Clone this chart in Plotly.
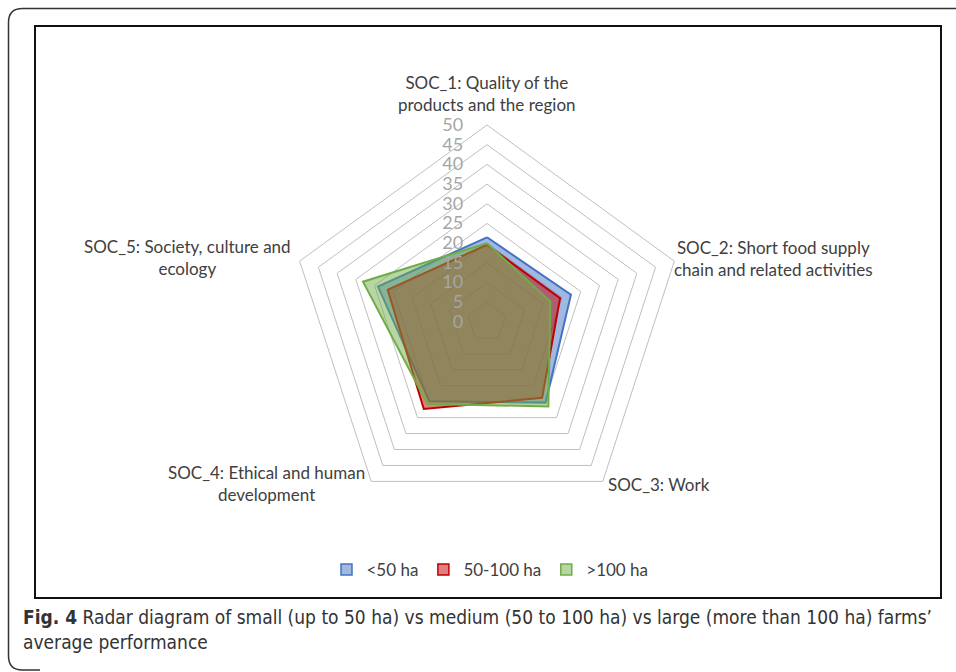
import plotly.graph_objects as go

W, H = 956, 672

categories = [
    "SOC_1: Quality of the<br>products and the region",
    "SOC_2: Short food supply<br>chain and related activities",
    "SOC_3: Work",
    "SOC_4: Ethical and human<br>development",
    "SOC_5: Society, culture and<br>ecology",
]
series_names = ["<50 ha", "50-100 ha", ">100 ha"]
small_vals = [21.5, 22.4, 25.3, 24.9, 29.1]
medium_vals = [19.6, 19.5, 23.8, 27.3, 26.5]
large_vals = [20.0, 16.9, 26.5, 25.7, 33.1]
radial_ticks = [0, 5, 10, 15, 20, 25, 30, 35, 40, 45, 50]

line_colors = ["#4472C4", "#C00000", "#70AD47"]
fill_colors = ["rgba(68,114,196,0.5)", "rgba(192,0,0,0.5)", "rgba(112,173,71,0.5)"]

caption = ("<b>Fig. 4</b> Radar diagram of small (up to 50 ha) vs medium (50 to 100 ha) "
           "vs large (more than 100 ha) farms’<br>average performance")

fig = go.Figure()
for name, vals, lc, fc in zip(series_names, [small_vals, medium_vals, large_vals], line_colors, fill_colors):
    fig.add_trace(go.Scatterpolar(
        r=vals + vals[:1], theta=categories + categories[:1],
        mode="lines", fill="toself", fillcolor=fc,
        line=dict(color=lc, width=2), name=name, legendgroup=name, showlegend=False,
    ))
for name, lc, fc in zip(series_names, line_colors, fill_colors):
    fig.add_trace(go.Scatterpolar(
        r=[None], theta=[categories[0]], mode="markers", name=name, legendgroup=name,
        marker=dict(symbol="square", size=11, color=fc, line=dict(color=lc, width=1.5)),
    ))


def px_x(x):
    return x / W


def px_y(y):
    return 1 - y / H


cx, cy, R = 487, 322, 197
fig.update_layout(
    width=W, height=H,
    margin=dict(l=0, r=0, t=0, b=0),
    paper_bgcolor="white",
    font=dict(family="Lato", size=17, color="#404040"),
    polar=dict(
        domain=dict(x=[px_x(cx - R), px_x(cx + R)], y=[px_y(cy + R), px_y(cy - R)]),
        bgcolor="white",
        gridshape="linear",
        angularaxis=dict(
            rotation=90, direction="clockwise",
            showgrid=False, showline=True, linecolor="#BFBFBF", linewidth=1,
            showticklabels=False, ticks="",
        ),
        radialaxis=dict(
            range=[0, 50], tickvals=radial_ticks, angle=90, tickangle=90,
            side="counterclockwise",
            showline=False, gridcolor="#BFBFBF", gridwidth=1,
            ticks="outside", ticklen=17, tickcolor="rgba(0,0,0,0)",
            tickfont=dict(family="Lato", size=18, color="#A6A6A6"),
        ),
    ),
    showlegend=True,
    legend=dict(orientation="h", x=px_x(490), xanchor="center", y=px_y(570), yanchor="middle",
                font=dict(family="Lato", size=17, color="#404040"), itemwidth=30,
                bgcolor="rgba(0,0,0,0)"),
)

# category labels (text from the categories list)
label_spots = [
    (487, 93, "center"),
    (672, 258, "left"),
    (606, 484, "left"),
    (367, 483, "right"),
    (293, 257, "right"),
]
for text, (lx, ly, anc) in zip(categories, label_spots):
    fig.add_annotation(xref="paper", yref="paper", x=px_x(lx), y=px_y(ly), xanchor=anc,
                       yanchor="middle", text=text, showarrow=False, align="center",
                       font=dict(family="Lato", size=17, color="#404040"))

# inner chart frame
fig.add_shape(type="rect", xref="paper", yref="paper",
              x0=px_x(35), x1=px_x(941), y0=px_y(598), y1=px_y(26),
              line=dict(color="#111111", width=2))
# outer rounded frame
r = 14
path = (f"M {px_x(960)},{px_y(8.5)} L {px_x(8.5 + r)},{px_y(8.5)} "
        f"Q {px_x(8.5)},{px_y(8.5)} {px_x(8.5)},{px_y(8.5 + r)} "
        f"L {px_x(8.5)},{px_y(670 - r)} "
        f"Q {px_x(8.5)},{px_y(670)} {px_x(8.5 + r)},{px_y(670)} L {px_x(40)},{px_y(670)}")
fig.add_shape(type="path", xref="paper", yref="paper", path=path,
              line=dict(color="#333333", width=1.5))

fig.add_annotation(xref="paper", yref="paper", x=px_x(21), y=px_y(604), xanchor="left", yanchor="top",
                   text=caption, showarrow=False, align="left",
                   font=dict(family="DejaVu Sans Condensed", size=19, color="#333333"))

fig.write_html("out.html", config={"displayModeBar": False},
               post_script="document.body.style.margin='0px';document.body.style.overflow='hidden';")
